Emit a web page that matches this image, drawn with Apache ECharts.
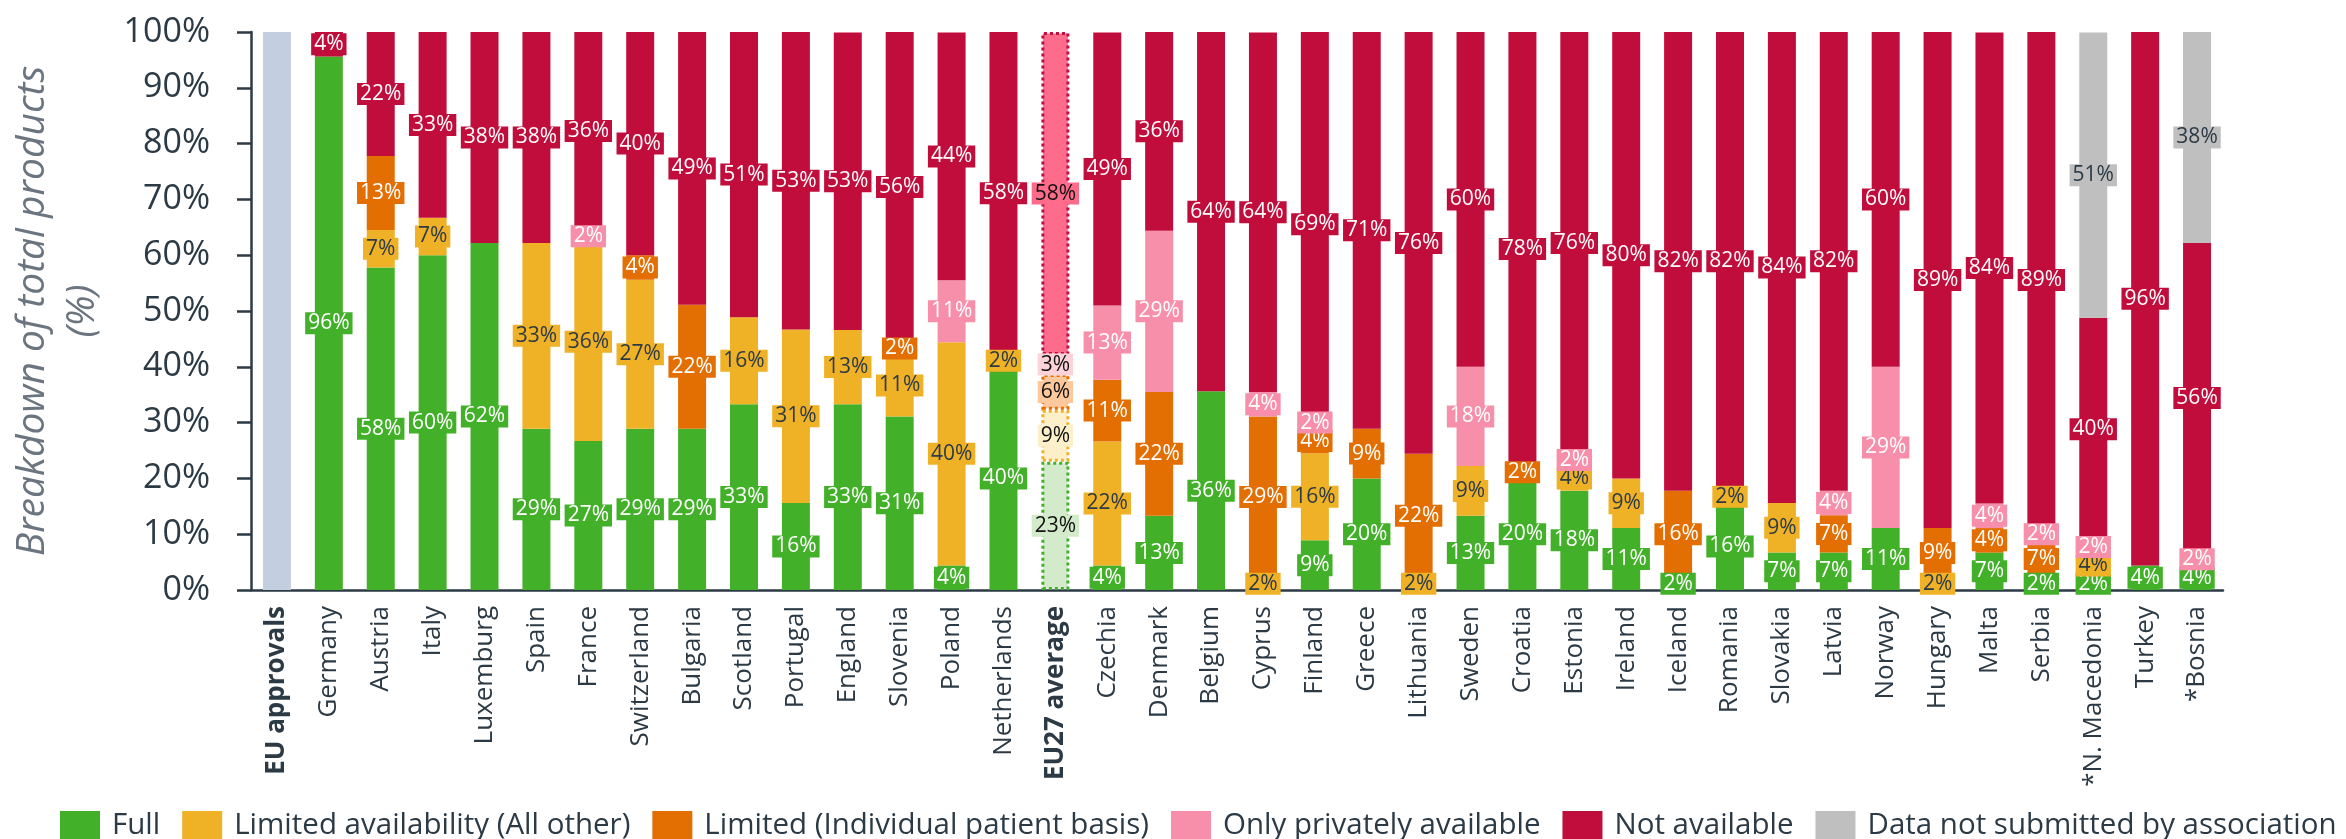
<!DOCTYPE html>
<html>
<head>
<meta charset="utf-8">
<script src="https://cdn.jsdelivr.net/npm/echarts@6/dist/echarts.min.js"></script>
<style>
html,body{margin:0;padding:0;background:#ffffff;}
#chart{width:2346px;height:839px;}
</style>
</head>
<body>
<div id="chart"></div>
<script>
// ---------------- DATA ----------------
const categories = ['EU approvals','Germany','Austria','Italy','Luxemburg','Spain','France','Switzerland','Bulgaria','Scotland','Portugal','England','Slovenia','Poland','Netherlands','EU27 average','Czechia','Denmark','Belgium','Cyprus','Finland','Greece','Lithuania','Sweden','Croatia','Estonia','Ireland','Iceland','Romania','Slovakia','Latvia','Norway','Hungary','Malta','Serbia','*N. Macedonia','Turkey','*Bosnia'];

const euApprovals   = [100,0,0,0,0,0,0,0,0,0,0,0,0,0,0,0,0,0,0,0,0,0,0,0,0,0,0,0,0,0,0,0,0,0,0,0,0,0];
const full          = [0,95.6,57.8,60.0,62.2,28.9,26.7,28.9,28.9,33.3,15.6,33.3,31.1,4.4,40.0,23.0,4.4,13.3,35.6,0,8.9,20.0,0,13.3,20.0,17.8,11.1,2.2,15.6,6.7,6.7,11.1,0,6.7,2.2,2.2,4.4,4.4];
const limitedOther  = [0,0,6.7,6.7,0,33.3,35.6,26.7,0,15.6,31.1,13.3,11.1,40.0,2.2,9.3,22.2,0,0,2.2,15.6,0,2.2,8.9,0,4.4,8.9,0,2.2,8.9,0,0,2.2,0,0,4.4,0,0];
const limitedIndiv  = [0,0,13.3,0,0,0,0,4.4,22.2,0,0,0,2.2,0,0,6.4,11.1,22.2,0,28.9,4.4,8.9,22.2,0,2.2,0,0,15.6,0,0,6.7,0,8.9,4.4,6.7,0,0,0];
const privateOnly   = [0,0,0,0,0,0,2.2,0,0,0,0,0,0,11.1,0,3.4,13.3,28.9,0,4.4,2.2,0,0,17.8,0,2.2,0,0,0,0,4.4,28.9,0,4.4,2.2,2.2,0,2.2];
const notAvailable  = [0,4.4,22.2,33.3,37.8,37.8,35.6,40.0,48.9,51.1,53.3,53.3,55.6,44.4,57.8,57.9,48.9,35.6,64.4,64.4,68.9,71.1,75.6,60.0,77.8,75.6,80.0,82.2,82.2,84.4,82.2,60.0,88.9,84.4,88.9,40.0,95.6,55.6];
const notSubmitted  = [0,0,0,0,0,0,0,0,0,0,0,0,0,0,0,0,0,0,0,0,0,0,0,0,0,0,0,0,0,0,0,0,0,0,0,51.1,0,37.8];

const seriesNames = ['Full','Limited availability (All other)','Limited (Individual patient basis)','Only privately available','Not available','Data not submitted by association'];
const yTicks = [0,10,20,30,40,50,60,70,80,90,100];

// ---------------- STYLE ----------------
const FONT = "'Open Sans', 'Noto Sans', sans-serif";
const DARK = '#2b3a45';
const colors    = ['#43b02a','#efb126','#e36e02','#f78fab','#c10d3c','#bfbfbf'];
const avgFills  = ['#d3ebcb','#fcefca','#fdc89c','#fdd3d9','#ff6b8b','#e6e6e6'];
const textCols  = ['#ffffff',DARK,'#ffffff','#ffffff','#ffffff',DARK];
const boldCats  = ['EU approvals','EU27 average'];
const avgIdx = categories.indexOf('EU27 average');

const values = [full, limitedOther, limitedIndiv, privateOnly, notAvailable, notSubmitted];

function buildData(arr, k) {
  return arr.map((v, i) => {
    if (!v) return '-';
    if (i === avgIdx) {
      return {
        value: v,
        itemStyle: { color: avgFills[k], borderColor: colors[k], borderType: 'dotted', borderWidth: 3 },
        label: { color: '#111111', backgroundColor: avgFills[k] }
      };
    }
    return v;
  });
}

const series = [{
  name: 'EU approvals',
  type: 'bar',
  stack: 'total',
  barWidth: 28,
  itemStyle: { color: '#c3cee0' },
  data: euApprovals.map(v => v ? v : '-'),
  label: { show: false }
}];

values.forEach((arr, k) => {
  series.push({
    name: seriesNames[k],
    type: 'bar',
    stack: 'total',
    barWidth: 28,
    itemStyle: { color: colors[k] },
    data: buildData(arr, k),
    label: {
      show: true,
      position: 'inside',
      formatter: p => Math.round(p.value) + '%',
      color: textCols[k],
      backgroundColor: colors[k],
      padding: [1, 3, 0, 3],
      fontSize: 21,
      lineHeight: 21,
      fontFamily: FONT
    }
  });
});

const chart = echarts.init(document.getElementById('chart'), null, { renderer: 'canvas' });
chart.setOption({
  animation: false,
  backgroundColor: '#ffffff',
  grid: { left: 250, right: 123, top: 32, bottom: 249, containLabel: false },
  legend: {
    data: seriesNames,
    left: 55,
    top: 806,
    itemWidth: 40,
    itemHeight: 30,
    itemGap: 22,
    icon: 'rect',
    textStyle: { fontSize: 29.5, color: DARK, fontFamily: FONT, padding: [0, 0, 0, 7] }
  },
  xAxis: {
    type: 'category',
    data: categories,
    axisTick: { show: false },
    axisLine: { show: true, lineStyle: { color: DARK, width: 2.5 } },
    axisLabel: {
      interval: 0,
      rotate: 90,
      margin: 16,
      fontSize: 26,
      color: DARK,
      fontFamily: FONT,
      formatter: v => boldCats.includes(v) ? '{b|' + v + '}' : v,
      rich: { b: { fontWeight: 'bold', fontSize: 26, color: DARK, fontFamily: FONT } }
    }
  },
  yAxis: {
    type: 'value',
    min: yTicks[0],
    max: yTicks[yTicks.length - 1],
    interval: 10,
    name: 'Breakdown of total products\n(%)',
    nameLocation: 'middle',
    nameRotate: 90,
    nameGap: 143,
    nameTextStyle: { fontSize: 39, fontStyle: 'italic', color: '#6a7580', fontFamily: FONT, lineHeight: 50 },
    axisLine: { show: true, lineStyle: { color: DARK, width: 2.5 } },
    axisTick: { show: true, inside: false, length: 14, lineStyle: { color: DARK, width: 2.5 } },
    splitLine: { show: false },
    axisLabel: { formatter: '{value}%', fontSize: 34, color: DARK, fontFamily: FONT, margin: 41 }
  },
  series: series
});
</script>
</body>
</html>
